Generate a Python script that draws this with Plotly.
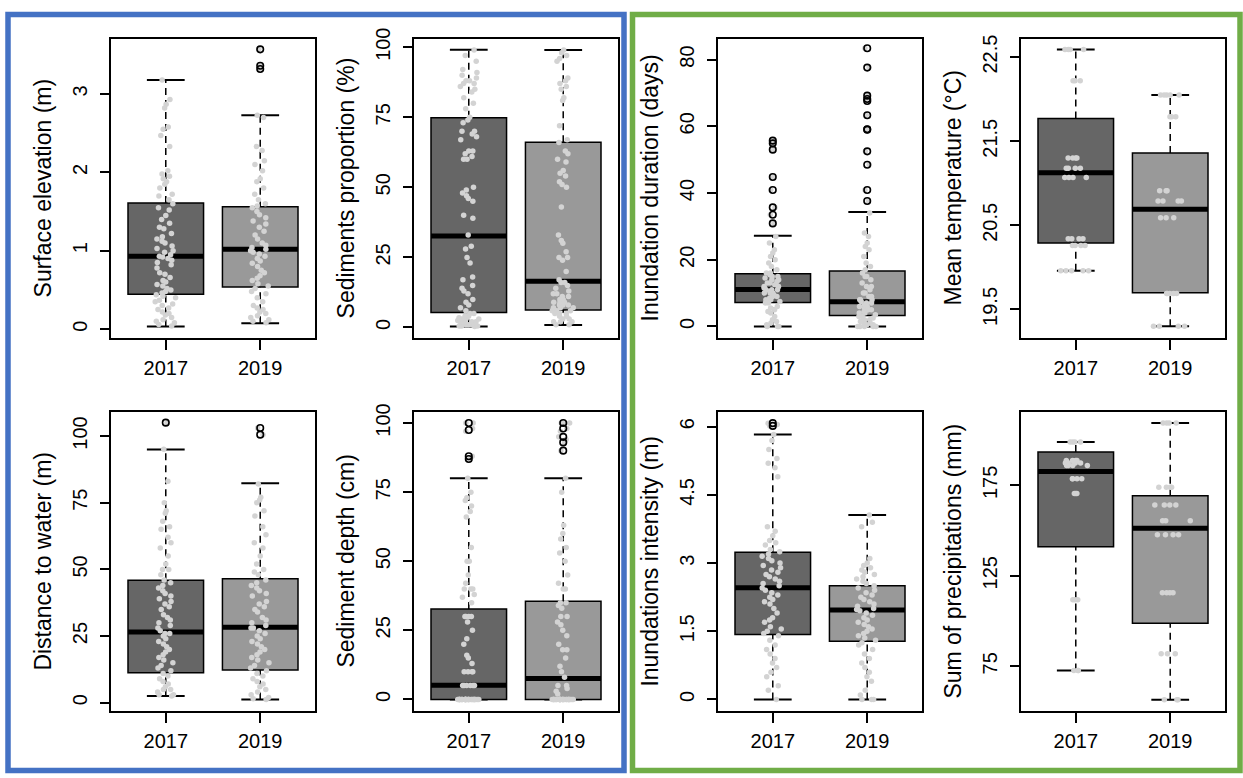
import plotly.graph_objects as go

W, H = 1243, 778

# ---------------- data ----------------
years = ["2017", "2019"]
positions = [1, 2]

titles = ["Surface elevation (m)", "Sediments proportion (%)",
          "Inundation duration (days)", "Mean temperature (°C)",
          "Distance to water (m)", "Sediment depth (cm)",
          "Inundations intensity (m)", "Sum of precipitations (mm)"]

# box statistics per year: [lower whisker, Q1, median, Q3, upper whisker]
elev_stats = [[0.035, 0.445, 0.93, 1.61, 3.18], [0.075, 0.537, 1.02, 1.56, 2.73]]
elev_out = [[], [3.57, 3.36, 3.32]]
elev_2017 = [3.18, 2.93, 2.87, 2.82, 2.58, 2.55, 2.47, 2.33, 2.02, 1.98, 1.95, 1.92, 1.88, 1.85,
             1.80, 1.72, 1.70, 1.65, 1.60, 1.55, 1.52, 1.45, 1.40, 1.35, 1.30, 1.28, 1.22, 1.18,
             1.15, 1.12, 1.10, 1.06, 1.03, 1.00, 0.98, 0.95, 0.93, 0.92, 0.90, 0.88, 0.85, 0.82,
             0.78, 0.72, 0.70, 0.66, 0.62, 0.60, 0.57, 0.55, 0.52, 0.50, 0.48, 0.46, 0.44, 0.42,
             0.40, 0.37, 0.35, 0.32, 0.30, 0.27, 0.25, 0.22, 0.20, 0.18, 0.15, 0.12, 0.10, 0.08,
             0.06, 0.04]
elev_2019 = [3.57, 3.36, 3.32, 2.73, 2.70, 2.33, 2.28, 2.15, 2.10, 2.02, 1.92, 1.88, 1.80, 1.72,
             1.65, 1.60, 1.57, 1.55, 1.50, 1.46, 1.42, 1.38, 1.34, 1.30, 1.25, 1.20, 1.15, 1.10,
             1.07, 1.04, 1.02, 1.00, 0.98, 0.96, 0.93, 0.90, 0.87, 0.84, 0.80, 0.75, 0.72, 0.68,
             0.65, 0.62, 0.58, 0.55, 0.52, 0.48, 0.45, 0.40, 0.35, 0.30, 0.27, 0.25, 0.22, 0.20,
             0.17, 0.15, 0.12, 0.10, 0.08]

sedp_stats = [[0.35, 5.3, 32.6, 74.8, 99.1], [0.9, 6.2, 16.5, 66.1, 99.0]]
sedp_out = [[], []]
sedp_2017 = [99, 97, 95, 92, 91, 90, 89, 88, 88, 87, 87, 86, 85, 84, 82, 80, 78, 75, 74, 73, 70,
             70, 69, 68, 67, 63, 63, 62, 61, 60, 60, 50, 49, 48, 47, 46, 45, 40, 39, 33, 29, 28,
             25, 23, 18, 17, 15, 14, 13, 12, 10, 9, 8, 7, 6, 5, 5, 4, 4, 3, 3, 3, 2, 2, 2, 1, 1,
             1, 0.5, 0.5, 0.3, 0.5, 1.5, 2.5, 3.5, 1, 2]
sedp_2019 = [99, 98, 97, 96, 95, 89, 88, 87, 86, 85, 82, 81, 72, 67, 66, 63, 62, 60, 59, 56, 55,
             54, 52, 51, 50, 43, 33, 31, 30, 27, 25, 25, 24, 20, 17, 16, 16, 15, 13, 12, 11, 10,
             10, 9, 9, 8, 8, 7, 7, 6, 6, 5, 5, 5, 4, 4, 3, 3, 2, 2, 2, 1, 1, 14, 12, 11, 9, 8, 7, 6]

dur_stats = [[0, 7.2, 11.1, 15.8, 27.2], [0, 3.25, 7.4, 16.6, 34.3]]
dur_out = [[55.7, 54.9, 53.0, 44.8, 40.9, 35.7, 33.5, 30.9],
           [83.4, 77.6, 69.2, 68.2, 67.6, 63.3, 59.1, 59.0, 52.5, 48.5, 40.9, 37.6]]
dur_2017 = [55.7, 54.9, 53.0, 44.8, 40.9, 35.7, 33.5, 30.9, 27, 25, 23, 22, 21, 20, 19, 18, 17,
            16, 16, 15.5, 15, 15, 14.5, 14, 14, 13.5, 13, 13, 12.5, 12, 12, 12, 11.5, 11, 11, 11,
            10.5, 10, 10, 10, 9.5, 9, 9, 8.5, 8, 8, 7.5, 7, 7, 6, 5.5, 5, 4.5, 4, 3, 2, 1.5, 1,
            0.5, 0, 0, 0]
dur_2019 = [83.4, 77.6, 69.2, 68.2, 67.6, 63.3, 59.1, 59.0, 52.5, 48.5, 40.9, 37.6, 34, 28, 27,
            25, 24, 23, 21, 19, 18, 17, 16, 15, 15, 14, 13, 12, 12, 11, 10, 10, 9, 9, 8, 8, 8,
            7.5, 7, 7, 6.5, 6, 6, 5.5, 5, 5, 5, 4.5, 4, 4, 3.5, 3, 3, 2.5, 2, 2, 1.5, 1, 1, 0.5,
            0.5, 0, 0, 0, 0, 0]

temp_stats = [[19.96, 20.29, 21.125, 21.77, 22.59], [19.30, 19.70, 20.69, 21.36, 22.05]]
temp_out = [[], []]
temp_2017 = [22.59, 22.59, 22.59, 22.59, 22.22, 22.22, 22.22, 21.30, 21.30, 21.30, 21.30,
             21.18, 21.18, 21.18, 21.18, 21.07, 21.07, 21.07, 21.07, 20.34, 20.34, 20.34, 20.34,
             20.26, 20.26, 20.26, 20.26, 19.96, 19.96, 19.96, 19.96, 19.96]
temp_2019 = [22.05, 22.05, 22.05, 22.05, 22.05, 21.79, 21.79, 21.79, 20.91, 20.91, 20.91,
             20.79, 20.79, 20.79, 20.79, 20.59, 20.59, 20.59, 19.69, 19.69, 19.69, 19.69, 19.69,
             19.30, 19.30, 19.30, 19.30]

dist_stats = [[2.5, 11.3, 26.5, 45.9, 94.9], [1.2, 12.3, 28.3, 46.5, 82.3]]
dist_out = [[105], [103, 100.5]]
dist_2017 = [105, 95, 83, 75, 72, 71, 68, 66, 65, 62, 60, 58, 55, 52, 50, 50, 48, 46, 45, 44,
             43, 42, 41, 40, 39, 38, 37, 36, 35, 33, 32, 31, 30, 29, 28, 27, 26, 26, 25, 24, 23,
             22, 21, 20, 19, 18, 17, 16, 15, 14, 13, 12, 11, 10, 9, 8, 7, 6, 5, 5, 4, 3, 3, 2.5]
dist_2019 = [103, 100.5, 82, 77, 76, 75, 72, 70, 66, 63, 60, 58, 55, 52, 50, 49, 48, 46, 45, 44,
             43, 42, 41, 40, 38, 37, 36, 35, 34, 32, 31, 30, 29, 28, 28, 27, 26, 25, 24, 23, 22,
             21, 20, 19, 18, 17, 16, 15, 14, 13, 12, 11, 10, 9, 8, 7, 6, 5, 4, 3, 2, 1.5, 1.2]

depth_stats = [[0, 0, 5.1, 32.7, 80], [0, 0, 7.6, 35.5, 80]]
depth_out = [[100, 97.5, 88, 87], [100, 98, 95, 93, 90]]
depth_2017 = [100, 100, 98, 97, 88, 87, 80, 75, 73, 72, 70, 68, 66, 55, 50, 50, 45, 42, 40, 40,
              40, 38, 37, 35, 30, 30, 30, 30, 28, 25, 22, 20, 16, 15, 13, 10, 10, 10, 10, 5, 5,
              5, 5, 5, 5, 0, 0, 0, 0, 0, 0, 0, 0, 0, 0, 0, 0, 0, 0, 0, 0, 0, 0, 0, 0, 0, 0, 0, 0,
              0, 0, 0, 0, 0, 0]
depth_2019 = [100, 100, 100, 98, 97, 95, 94, 93, 90, 80, 75, 63, 60, 58, 55, 53, 50, 45, 42, 40,
              40, 35, 35, 34, 33, 30, 30, 28, 27, 25, 23, 20, 18, 18, 15, 12, 10, 8, 5, 5, 4, 3,
              2, 0, 0, 0, 0, 0, 0, 0, 0, 0, 0, 0, 0, 0, 0, 0, 0, 0, 0, 0, 0, 0, 0, 0, 0, 0, 0, 0, 0]

inten_stats = [[0, 1.43, 2.46, 3.24, 5.83], [0, 1.28, 1.97, 2.50, 4.06]]
inten_out = [[6.08, 6.02], []]
inten_2017 = [6.08, 6.02, 6.05, 5.83, 5.7, 5.5, 5.3, 5.2, 5.1, 4.9, 3.8, 3.7, 3.6, 3.5, 3.45,
              3.4, 3.3, 3.25, 3.2, 3.15, 3.1, 3.05, 3.0, 2.95, 2.9, 2.85, 2.8, 2.75, 2.7, 2.65,
              2.6, 2.55, 2.5, 2.45, 2.4, 2.35, 2.3, 2.25, 2.2, 2.15, 2.1, 2.0, 1.9, 1.8, 1.75, 1.7,
              1.6, 1.55, 1.5, 1.45, 1.4, 1.3, 1.2, 1.1, 1.0, 0.9, 0.8, 0.7, 0.6, 0.5, 0.3, 0.2, 0]
inten_2019 = [4.06, 3.9, 3.8, 3.1, 3.0, 2.95, 2.9, 2.85, 2.8, 2.75, 2.7, 2.65, 2.6, 2.55, 2.5,
              2.45, 2.4, 2.35, 2.3, 2.25, 2.2, 2.15, 2.1, 2.05, 2.0, 1.98, 1.95, 1.9, 1.85, 1.8,
              1.75, 1.7, 1.65, 1.6, 1.55, 1.5, 1.45, 1.4, 1.35, 1.3, 1.25, 1.2, 1.1, 1.0, 0.9, 0.8,
              0.7, 0.6, 0.5, 0.4, 0.2, 0.1, 0, 0, 0]

prec_stats = [[72.6, 141.0, 182.6, 193.4, 198.9], [56.5, 98.8, 151.3, 169.2, 209.5]]
prec_out = [[], []]
prec_2017 = [198.9, 198.9, 198.9, 198.9, 188.8, 188.8, 188.8, 188.8, 187.3, 187.3, 187.3, 187.3,
             185.9, 185.9, 185.9, 185.9, 178.6, 178.6, 178.6, 178.6, 170.5, 170.5, 170.5,
             111.7, 111.7, 111.7, 72.6, 72.6, 72.6]
prec_2019 = [209.5, 209.5, 209.5, 209.5, 173.9, 173.9, 173.9, 173.9, 164.1, 164.1, 164.1, 164.1,
             155.4, 155.4, 155.4, 147.7, 147.7, 147.7, 147.7, 115.6, 115.6, 115.6, 115.6,
             81.9, 81.9, 81.9, 56.5, 56.5, 56.5]

ticks_elev = [0, 1, 2, 3]
ticks_pct = [0, 25, 50, 75, 100]
ticks_dur = [0, 20, 40, 60, 80]
ticks_temp = [19.5, 20.5, 21.5, 22.5]
ticks_inten = [0, 1.5, 3, 4.5, 6]
ticks_prec = [75, 125, 175]
ticklabels_inten = ["0", "1.5", "3", "4.5", "6"]

# ---------------- layout constants (pixels of the 1243x778 canvas) ----------------
col_px = [(111, 315), (414, 618), (718, 922), (1021, 1225)]
row_px = [(28, 332), (407, 710)]
y_ranges = [[-0.117, 3.707], [-3.87, 103.06], [-3.55, 86.3], [19.157, 22.72],
            [-3.07, 108.9], [-4.17, 103.9], [-0.254, 6.32], [50.3, 215.4]]
jitters = [0.3, 0.3, 0.3, 0.6, 0.3, 0.3, 0.3, 0.6]

panels = [
    dict(stats=elev_stats, out=elev_out, pts=[elev_2017, elev_2019], ticks=ticks_elev, labels=None),
    dict(stats=sedp_stats, out=sedp_out, pts=[sedp_2017, sedp_2019], ticks=ticks_pct, labels=None),
    dict(stats=dur_stats, out=dur_out, pts=[dur_2017, dur_2019], ticks=ticks_dur, labels=None),
    dict(stats=temp_stats, out=temp_out, pts=[temp_2017, temp_2019], ticks=ticks_temp, labels=None),
    dict(stats=dist_stats, out=dist_out, pts=[dist_2017, dist_2019], ticks=ticks_pct, labels=None),
    dict(stats=depth_stats, out=depth_out, pts=[depth_2017, depth_2019], ticks=ticks_pct, labels=None),
    dict(stats=inten_stats, out=inten_out, pts=[inten_2017, inten_2019], ticks=ticks_inten,
         labels=ticklabels_inten),
    dict(stats=prec_stats, out=prec_out, pts=[prec_2017, prec_2019], ticks=ticks_prec, labels=None),
]

box_fill = ["#666666", "#999999"]
half = 0.4      # half box width (R boxwex 0.8)
cap = 0.2       # half staple width
FONT = "Liberation Sans, Arial, sans-serif"

fig = go.Figure()
shapes = []
annotations = []
layout_axes = {}

for k, p in enumerate(panels):
    r, c = divmod(k, 4)
    n = k + 1
    xn = "x" if n == 1 else f"x{n}"
    yn = "y" if n == 1 else f"y{n}"
    xkey = "xaxis" if n == 1 else f"xaxis{n}"
    ykey = "yaxis" if n == 1 else f"yaxis{n}"
    x0p, x1p = col_px[c]
    y0p, y1p = row_px[r]
    layout_axes[xkey] = dict(
        domain=[x0p / W, x1p / W], anchor=yn, range=[0.42, 2.58],
        tickmode="array", tickvals=positions, ticktext=years,
        ticks="outside", ticklen=10, tickwidth=1.5, tickcolor="black",
        showline=True, mirror=True, linecolor="black", linewidth=1.5,
        showgrid=False, zeroline=False, ticklabelstandoff=1,
        tickfont=dict(family=FONT, size=20, color="black"), fixedrange=True)
    layout_axes[ykey] = dict(
        domain=[1 - y1p / H, 1 - y0p / H], anchor=xn, range=y_ranges[k],
        tickmode="array", tickvals=p["ticks"],
        ticktext=p["labels"] if p["labels"] else [f"{t:g}" for t in p["ticks"]],
        tickangle=-90, ticks="outside", ticklen=9, tickwidth=1.5, tickcolor="black",
        showline=True, mirror=True, linecolor="black", linewidth=1.5,
        showgrid=False, zeroline=False, ticklabelstandoff=5,
        tickfont=dict(family=FONT, size=20, color="black"), fixedrange=True)

    annotations.append(dict(
        text=titles[k], xref=f"{xn} domain", yref=f"{yn} domain",
        x=-68 / (x1p - x0p), y=0.5, xanchor="center", yanchor="middle",
        textangle=-90, showarrow=False, font=dict(family=FONT, size=23, color="black")))

    for j in range(2):
        pos = positions[j]
        wlo, q1, med, q3, whi = p["stats"][j]
        # whiskers (dashed)
        for a, b in ((q3, whi), (wlo, q1)):
            shapes.append(dict(type="line", xref=xn, yref=yn, x0=pos, x1=pos, y0=a, y1=b,
                               line=dict(color="black", width=1.5, dash="7px,5px"), layer="below"))
        # staples
        for v in (wlo, whi):
            shapes.append(dict(type="line", xref=xn, yref=yn, x0=pos - cap, x1=pos + cap,
                               y0=v, y1=v, line=dict(color="black", width=2), layer="below"))
        # box
        shapes.append(dict(type="rect", xref=xn, yref=yn, x0=pos - half, x1=pos + half,
                           y0=q1, y1=q3, fillcolor=box_fill[j],
                           line=dict(color="black", width=1.5), layer="below"))
        # median
        shapes.append(dict(type="line", xref=xn, yref=yn, x0=pos - half, x1=pos + half,
                           y0=med, y1=med, line=dict(color="black", width=5), layer="below"))

        # jittered raw observations
        fig.add_trace(go.Box(
            y=p["pts"][j], x0=pos, width=2 * half, boxpoints="all", jitter=jitters[k], pointpos=0,
            fillcolor="rgba(0,0,0,0)", line=dict(width=0, color="rgba(0,0,0,0)"),
            whiskerwidth=0, marker=dict(color="#D3D3D3", size=5.5, line=dict(width=0)),
            xaxis=xn, yaxis=yn, showlegend=False, hoveron="points", name=years[j]))
        # outliers (open circles at box centre)
        if p["out"][j]:
            fig.add_trace(go.Scatter(
                x=[pos] * len(p["out"][j]), y=p["out"][j], mode="markers",
                marker=dict(symbol="circle-open", color="black", size=6.5, line=dict(width=1.6)),
                xaxis=xn, yaxis=yn, showlegend=False, hoverinfo="y"))

# coloured group frames (blue: left four panels, green: right four panels)
for (fx0, fy0, fx1, fy1), col in (((8, 3.5, 624, 770.5), "#4472C4"),
                                  ((632.5, 3.5, 1240, 770.5), "#70AD47")):
    shapes.append(dict(type="rect", xref="paper", yref="paper",
                       x0=fx0 / W, x1=fx1 / W, y0=1 - fy1 / H, y1=1 - fy0 / H,
                       line=dict(color=col, width=5.5), fillcolor="rgba(0,0,0,0)", layer="above"))

fig.update_layout(
    width=W, height=H, margin=dict(l=0, r=0, t=0, b=0),
    paper_bgcolor="white", plot_bgcolor="white",
    boxmode="overlay", showlegend=False,
    shapes=shapes, annotations=annotations,
    font=dict(family=FONT, color="black"),
    **layout_axes)

fig.write_html("out.html", config={"displayModeBar": False},
               post_script="document.body.style.margin='0';document.body.style.overflow='hidden';")
